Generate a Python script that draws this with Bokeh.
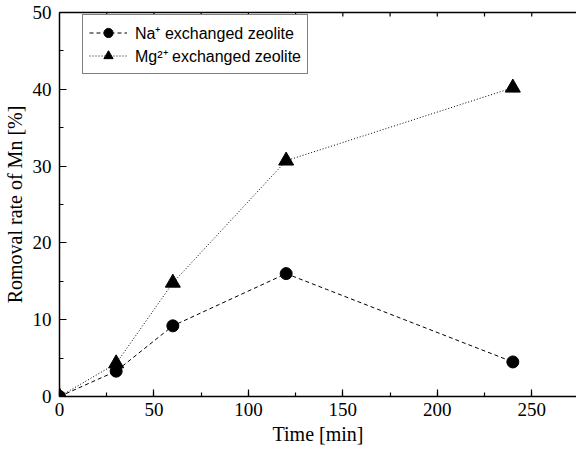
import math
from bokeh.plotting import figure
from bokeh.models import Range1d, Legend, LegendItem, LinearAxis, SingleIntervalTicker, FixedTicker
from bokeh.embed import file_html
from bokeh.resources import INLINE

# Data
time_min = [0, 30, 60, 120, 240]
na_removal = [0, 3.3, 9.2, 16.0, 4.5]
mg_removal = [0, 4.3, 14.8, 30.7, 40.2]
na_label = "Na\u207a exchanged zeolite"
mg_label = "Mg\u00b2\u207a exchanged zeolite"
x_label = "Time [min]"
y_label = "Romoval rate of Mn [%]"
top_tick_step = 25

x_end = 273.7
y_end = 50

p = figure(width=576, height=456, output_backend="svg", toolbar_location=None,
           x_range=Range1d(0, x_end), y_range=Range1d(0, y_end),
           min_border_left=57, min_border_right=0, min_border_top=12, min_border_bottom=60)
p.outline_line_color = None
p.grid.visible = False
p.background_fill_color = "white"
p.border_fill_color = "white"

serif = "Liberation Serif"
for ax in (p.xaxis[0], p.yaxis[0]):
    ax.axis_line_width = 1.5
    ax.axis_line_color = "black"
    ax.major_tick_in = 7
    ax.major_tick_out = 0
    ax.minor_tick_in = 4
    ax.minor_tick_out = 0
    ax.major_tick_line_width = 1.2
    ax.minor_tick_line_width = 1.2
    ax.major_label_text_font = serif
    ax.major_label_text_font_size = "19px"
    ax.major_label_text_color = "black"
    ax.axis_label_text_font = serif
    ax.axis_label_text_font_size = "20px"
    ax.axis_label_text_font_style = "normal"
    ax.axis_label_text_color = "black"

p.xaxis[0].ticker = SingleIntervalTicker(interval=50, num_minor_ticks=2)
p.yaxis[0].ticker = SingleIntervalTicker(interval=10, num_minor_ticks=2)
p.xaxis[0].axis_label = x_label
p.yaxis[0].axis_label = y_label
p.xaxis[0].major_label_standoff = 6
p.xaxis[0].axis_label_standoff = 4
p.yaxis[0].major_label_standoff = 8
p.yaxis[0].axis_label_standoff = 4

# top border line (no labels)
top = LinearAxis(ticker=FixedTicker(ticks=[]), axis_line_width=1.5, axis_line_color="black",
                 major_tick_in=0, major_tick_out=0, minor_tick_in=0, minor_tick_out=0)
p.add_layout(top, "above")

# small inward ticks on the top border
top_ticks = list(range(top_tick_step, int(x_end) + 1, top_tick_step))
p.ray(x=top_ticks, y=[y_end] * len(top_ticks), length=4, length_units="screen",
      angle=-math.pi / 2, line_color="black", line_width=1.2)

na_line = p.line(time_min, na_removal, line_color="black", line_width=1, line_dash="4 3")
na_pts = p.scatter(time_min, na_removal, marker="circle", size=12, fill_color="black", line_color="black")
mg_line = p.line(time_min, mg_removal, line_color="black", line_width=1, line_dash="1 2")
mg_pts = p.scatter(time_min, mg_removal, marker="triangle", size=15, fill_color="black", line_color="black")

legend = Legend(items=[LegendItem(label=na_label, renderers=[na_line, na_pts]),
                       LegendItem(label=mg_label, renderers=[mg_line, mg_pts])],
                location=(23, 322))
legend.border_line_color = "black"
legend.border_line_width = 1
legend.background_fill_alpha = 1
legend.label_text_font = "Liberation Sans"
legend.label_text_font_size = "16px"
legend.label_text_color = "black"
legend.glyph_width = 38
legend.glyph_height = 23
legend.label_height = 23
legend.label_standoff = 8
legend.spacing = 0
legend.padding = 6
legend.margin = 0
p.add_layout(legend, "center")

open("out.html", "w").write(file_html(p, INLINE))
